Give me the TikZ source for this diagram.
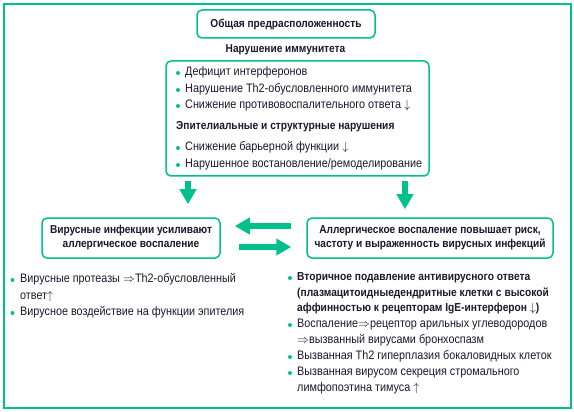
\documentclass[tikz,border=0pt]{standalone}
\usepackage{fontspec}
\setmainfont{Liberation Sans}[FakeStretch=0.88]
\usetikzlibrary{arrows.meta}

\definecolor{frgreen}{RGB}{0,192,140}
\definecolor{txtdark}{RGB}{25,25,45}

\tikzset{
  greenbox/.style={draw=frgreen, line width=1.5pt, rounded corners=5pt, fill=white, inner sep=0pt},
  boxtext/.style={text=txtdark, font=\fontsize{11.5}{14}\selectfont\bfseries, align=center},
  itemtext/.style={anchor=mid west, inner sep=0pt, text=txtdark, font=\fontsize{12.3}{16}\selectfont},
  itemhead/.style={itemtext, font=\fontsize{11.6}{16}\selectfont\bfseries},
  bigarrow/.style={draw=frgreen, line width=6pt, -{Triangle[length=15pt,width=16pt]}},
}

\begin{document}
\begin{tikzpicture}[x=1pt,y=-1pt]
\useasboundingbox (0,0) rectangle (574,412);
\draw[frgreen, line width=2pt] (3.5,4) rectangle (570.5,407.5);

% top part
\node[greenbox, boxtext, minimum width=178pt, minimum height=28pt] (pred) at (286,24) {Общая предрасположенность};
\node[boxtext] (immh) at (285.5,50) {Нарушение иммунитета};
\node[greenbox, minimum width=263pt, minimum height=115pt] (imm) at (297.5,118.5) {};

\node[itemtext] (i1) at (185,73) {Дефицит интерферонов};
\node[itemtext] (i2) at (185,90) {Нарушение Th2-обусловленного иммунитета};
\node[itemtext] (i3) at (185,106) {Снижение противовоспалительного ответа $\downarrow$};
\node[itemhead] (epi) at (176,127) {Эпителиальные и структурные нарушения};
\node[itemtext] (e1) at (185,148) {Снижение барьерной функции $\downarrow$};
\node[itemtext] (e2) at (185,165) {Нарушенное востановление/ремоделирование};
\foreach \y in {73,90,106,148,165}
  \fill[frgreen] (178,\y) circle (2pt);

% the two effects
\node[greenbox, boxtext, minimum width=178pt, minimum height=40pt] (vir) at (131,238)
  {Вирусные инфекции усиливают\\аллергическое воспаление};
\node[greenbox, boxtext, minimum width=246pt, minimum height=40pt] (all) at (430,238)
  {Аллергическое воспаление повышает риск,\\частоту и выраженность вирусных инфекций};

\draw[bigarrow] ([xshift=-109.5pt,yshift=-4pt]imm.south) -- ([xshift=57pt,yshift=13pt]vir.north);
\draw[bigarrow] ([xshift=107.5pt,yshift=-4pt]imm.south) -- ([xshift=-25pt,yshift=8pt]all.north);
\draw[bigarrow] ([xshift=-15pt,yshift=12pt]all.west) -- ([xshift=14pt,yshift=12pt]vir.east);
\draw[bigarrow] ([xshift=18pt,yshift=-9pt]vir.east) -- ([xshift=-15pt,yshift=-9pt]all.west);

% left list
\node[itemtext] (v1) at (20,280) {Вирусные протеазы $\Rightarrow$Th2-обусловленный};
\node[itemtext] (v1b) at (20,297) {ответ$\uparrow$};
\node[itemtext] (v2) at (20,313) {Вирусное воздействие на функции эпителия};
\foreach \y in {280,313}
  \fill[frgreen] (12.5,\y) circle (2pt);

% right list
\node[itemhead] (a1) at (297,278) {Вторичное подавление антивирусного ответа};
\node[itemhead] (a1b) at (297,294) {(плазмацитоидныедендритные клетки с высокой};
\node[itemhead] (a1c) at (297,309) {аффинностью к рецепторам IgE-интерферон $\downarrow$)};
\node[itemtext] (a2) at (297,325) {Воспаление$\Rightarrow$рецептор арильных углеводородов};
\node[itemtext] (a2b) at (297,341) {$\Rightarrow$вызванный вирусами бронхоспазм};
\node[itemtext] (a3) at (297,357) {Вызванная Th2 гиперплазия бокаловидных клеток};
\node[itemtext] (a4) at (297,373) {Вызванная вирусом секреция стромального};
\node[itemtext] (a4b) at (297,389) {лимфопоэтина тимуса $\uparrow$};
\foreach \y in {278,325,357,373}
  \fill[frgreen] (290,\y) circle (2pt);
\end{tikzpicture}
\end{document}
